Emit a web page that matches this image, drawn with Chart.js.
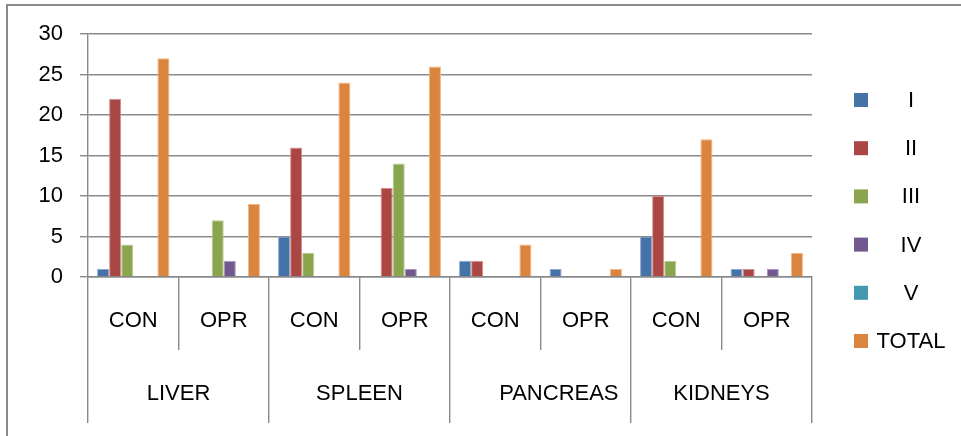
<!DOCTYPE html>
<html>
<head>
<meta charset="utf-8">
<script src="https://cdn.jsdelivr.net/npm/chart.js@4"></script>
<style>
  html, body { margin: 0; padding: 0; background: #fff; }
  #wrap { position: relative; width: 961px; height: 436px; overflow: hidden; }
  #frame { position: absolute; left: 6px; top: 4px; width: 980px; height: 460px;
           border-left: 2px solid #8a8a8a; border-top: 2px solid #8a8a8a; }
  canvas { position: absolute; left: 0; top: 0; }
</style>
</head>
<body>
<div id="wrap">
  <div id="frame"></div>
  <canvas id="myChart" width="961" height="436"></canvas>
</div>
<script>
const groups = ["CON", "OPR", "CON", "OPR", "CON", "OPR", "CON", "OPR"];
const organs = ["LIVER", "SPLEEN", "      PANCREAS", "KIDNEYS"];
const seriesNames = ["I", "II", "III", "IV", "V", "TOTAL"];
const seriesColors = ["#4572a7", "#aa4643", "#89a54e", "#71588f", "#4198af", "#db843d"];
const seriesEdges = ["#8fa9cc", "#d08f8c", "#b9cc94", "#a796bd", "#8cc5d3", "#f0b98a"];

const valuesI     = [1, 0, 5, 0, 2, 1, 5, 1];
const valuesII    = [22, 0, 16, 11, 2, 0, 10, 1];
const valuesIII   = [4, 7, 3, 14, 0, 0, 2, 0];
const valuesIV    = [0, 2, 0, 1, 0, 0, 0, 1];
const valuesV     = [0, 0, 0, 0, 0, 0, 0, 0];
const valuesTotal = [27, 9, 24, 26, 4, 1, 17, 3];

const yTicks = [0, 5, 10, 15, 20, 25, 30];

const allValues = [valuesI, valuesII, valuesIII, valuesIV, valuesV, valuesTotal];
const fontFamily = "'Liberation Sans', Arial, sans-serif";
const gridGray = "#8a8a8a";

// legend drawn at the right, text centred in a column like the original
const sideLegend = {
  id: "sideLegend",
  afterDraw(chart) {
    const ctx = chart.ctx;
    const area = chart.chartArea;
    const boxX = area.right + 42;
    const textX = area.right + 99;
    ctx.save();
    ctx.font = "22px " + fontFamily;
    ctx.textAlign = "center";
    ctx.textBaseline = "middle";
    chart.data.datasets.forEach(function (ds, i) {
      const cy = area.top + 66 + i * 48.2;
      ctx.fillStyle = ds.backgroundColor;
      ctx.fillRect(boxX, cy - 7, 14, 14);
      ctx.fillStyle = "#000";
      ctx.fillText(ds.label, textX, cy + 1);
    });
    ctx.restore();
  }
};

const data = {
  labels: groups,
  datasets: seriesNames.map(function (name, i) {
    return {
      label: name,
      data: allValues[i],
      backgroundColor: seriesColors[i],
      borderColor: seriesEdges[i],
      borderWidth: 1,
      borderSkipped: "start",
      categoryPercentage: 0.8,
      barPercentage: 1.0
    };
  })
};

const config = {
  type: "bar",
  data: data,
  plugins: [sideLegend],
  options: {
    responsive: false,
    animation: false,
    events: [],
    layout: { padding: { left: 0, top: 34, right: 149, bottom: 13 } },
    plugins: {
      legend: { display: false },
      tooltip: { enabled: false }
    },
    scales: {
      y: {
        min: 0,
        max: 30,
        afterBuildTicks: function (axis) {
          axis.ticks = yTicks.map(v => ({ value: v }));
        },
        afterFit: function (axis) { axis.width = 88; },
        grid: { color: gridGray, lineWidth: 1.4, tickLength: 8 },
        border: { color: gridGray, width: 1.4 },
        ticks: { color: "#000", padding: 17, font: { size: 22, family: fontFamily } }
      },
      x: {
        position: "bottom",
        afterFit: function (axis) { axis.height = 73; },
        grid: { offset: true, drawOnChartArea: false, color: gridGray, lineWidth: 1.4, tickLength: 73 },
        border: { color: gridGray, width: 1.4 },
        ticks: { color: "#000", padding: -42, maxRotation: 0, autoSkip: false,
                 font: { size: 22, family: fontFamily } }
      },
      x2: {
        type: "category",
        position: "bottom",
        labels: organs,
        afterFit: function (axis) { axis.height = 73; },
        grid: { offset: true, drawOnChartArea: false, color: gridGray, lineWidth: 1.4, tickLength: 73 },
        border: { display: false },
        ticks: { color: "#000", padding: -42, maxRotation: 0, autoSkip: false,
                 font: { size: 22, family: fontFamily } }
      }
    }
  }
};

const myChart = new Chart(document.getElementById("myChart"), config);
</script>
</body>
</html>
